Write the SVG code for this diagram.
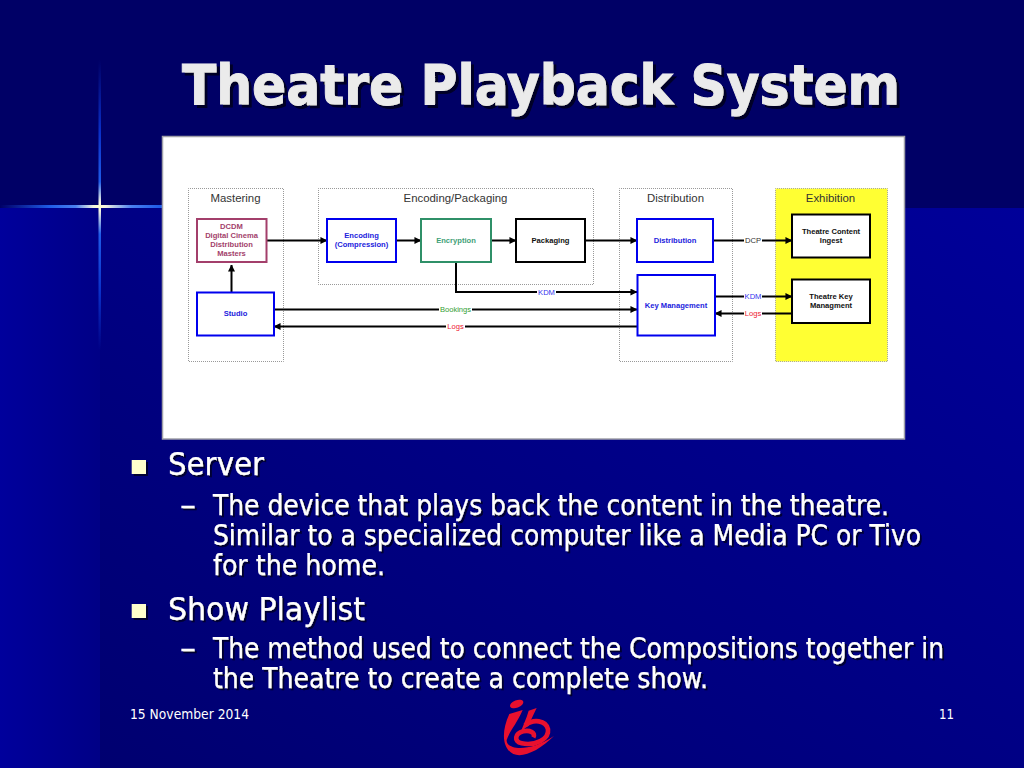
<svg xmlns="http://www.w3.org/2000/svg" width="1024" height="768" viewBox="0 0 1024 768">
<defs>
<linearGradient id="lg" x1="0" x2="1" y1="0" y2="0"><stop offset="0" stop-color="#00009c"/><stop offset="1" stop-color="#000086"/></linearGradient>
<linearGradient id="rg" x1="0" x2="1" y1="1" y2="0"><stop offset="0" stop-color="#000070"/><stop offset="1" stop-color="#000099"/></linearGradient>
<linearGradient id="hs" gradientUnits="userSpaceOnUse" x1="0" x2="199" y1="0" y2="0"><stop offset="0" stop-color="#1a50e0" stop-opacity="0"/><stop offset=".25" stop-color="#1f5ce8"/><stop offset=".38" stop-color="#4a80f0"/><stop offset=".47" stop-color="#f4f4e0"/><stop offset=".5" stop-color="#ffffd0"/><stop offset=".53" stop-color="#f4f4e0"/><stop offset=".66" stop-color="#4a80f0"/><stop offset=".8" stop-color="#1f5ce8"/><stop offset="1" stop-color="#1a50e0"/></linearGradient>
<linearGradient id="vs" gradientUnits="userSpaceOnUse" x1="0" x2="0" y1="60" y2="350"><stop offset="0" stop-color="#0a2ec0" stop-opacity="0"/><stop offset=".25" stop-color="#0a30c8"/><stop offset=".42" stop-color="#1f5ce8"/><stop offset=".49" stop-color="#f4f4e0"/><stop offset=".505" stop-color="#ffffd0"/><stop offset=".52" stop-color="#f4f4e0"/><stop offset=".6" stop-color="#1f5ce8"/><stop offset=".8" stop-color="#0a30c8"/><stop offset="1" stop-color="#0a2ec0" stop-opacity="0"/></linearGradient>
<marker id="ah" viewBox="0 0 8 8" refX="7.5" refY="4" markerWidth="7" markerHeight="7" markerUnits="userSpaceOnUse" orient="auto"><path d="M0 0L8 4L0 8Z" fill="#000"/></marker>
<filter id="ds3" x="-5%" y="-20%" width="110%" height="140%"><feDropShadow dx="3" dy="3" stdDeviation=".7" flood-color="#000028"/></filter>
<filter id="ds2" x="-5%" y="-10%" width="110%" height="120%"><feDropShadow dx="2" dy="2" stdDeviation=".6" flood-color="#000030"/></filter>
</defs>
<style>
.t{font-family:"DejaVu Sans",sans-serif;fill:#fff}
.title{font-size:56px;font-weight:700;fill:#ebebeb;stroke:#ebebeb;stroke-width:1}
.l1{font-size:32px;stroke:#fff;stroke-width:.25}
.l2{font-size:27.5px;stroke:#fff;stroke-width:.25}
.ft{font-size:14px}
.grp{fill:#fff;stroke:#999;stroke-width:1;stroke-dasharray:1 1;stroke-dashoffset:.5}
.gh{font:11.400px "Liberation Sans",Arial,sans-serif;fill:#333;text-anchor:middle}
.b{fill:#fff;stroke-width:2}
.bt{font:bold 7.600px "Liberation Sans",Arial,sans-serif;text-anchor:middle}
.c{fill:none;stroke:#000;stroke-width:2}
.lb{font:7.600px "Liberation Sans",Arial,sans-serif;text-anchor:middle}
</style>
<rect width="1024" height="768" fill="#000066"/>
<rect x="0" y="208" width="100" height="560" fill="url(#lg)"/>
<rect x="100" y="208" width="924" height="560" fill="url(#rg)"/>
<g id="star">
<rect x="0" y="205" width="199" height="3" fill="url(#hs)"/>
<rect x="98.500" y="60" width="2.500" height="290" fill="url(#vs)"/>
</g>
<g id="heading" filter="url(#ds3)">
<text class="t title" x="182" y="104" textLength="718" lengthAdjust="spacingAndGlyphs">Theatre Playback System</text>
</g>
<rect x="162.500" y="136.500" width="742" height="302.500" fill="#fff" stroke="#a0a0a8" stroke-width="1.500"/>
<g id="mastering"><rect class="grp" x="188.500" y="188.500" width="95" height="173"/><text class="gh" x="235.500" y="202">Mastering</text></g>
<g id="encoding-packaging"><rect class="grp" x="318.500" y="188.500" width="275" height="96"/><text class="gh" x="455.500" y="202">Encoding/Packaging</text></g>
<g id="distribution-group"><rect class="grp" x="619.500" y="188.500" width="113" height="173"/><text class="gh" x="675.500" y="202">Distribution</text></g>
<g id="exhibition"><rect x="775.500" y="188.500" width="112" height="173" fill="#ffff33" stroke="#aa9" stroke-dasharray="1 1" stroke-dashoffset=".5"/><text class="gh" x="830.500" y="202">Exhibition</text></g>
<g id="connectors">
<path class="c" marker-end="url(#ah)" d="M266.500 240.500H327"/>
<path class="c" marker-end="url(#ah)" d="M396 240.500H421"/>
<path class="c" marker-end="url(#ah)" d="M491 240.500H516"/>
<path class="c" marker-end="url(#ah)" d="M585 240.500H637"/>
<path class="c" marker-end="url(#ah)" d="M713 240.500H792"/>
<path class="c" marker-end="url(#ah)" d="M231.500 292.500V265"/>
<path class="c" marker-end="url(#ah)" d="M456 262V292H637"/>
<path class="c" marker-end="url(#ah)" d="M274 309.500H637"/>
<path class="c" marker-end="url(#ah)" d="M637.500 326.500H274"/>
<path class="c" marker-end="url(#ah)" d="M715 296.500H792"/>
<path class="c" marker-end="url(#ah)" d="M792 313.500H715"/>
<g fill="#fff">
<rect x="744" y="236" width="18" height="9"/><rect x="744" y="292" width="18" height="9"/><rect x="744" y="309" width="18" height="9"/>
<rect x="537" y="288" width="19" height="8"/><rect x="439" y="305" width="33" height="9"/><rect x="446" y="322" width="19" height="9"/>
</g>
<text class="lb" x="753" y="243.200" fill="#333">DCP</text>
<text class="lb" x="753" y="299" fill="#3333ee">KDM</text>
<text class="lb" x="753" y="316.300" fill="#ee2233">Logs</text>
<text class="lb" x="546.500" y="294.700" fill="#3333ee">KDM</text>
<text class="lb" x="455.500" y="312.200" fill="#33a033">Bookings</text>
<text class="lb" x="455.500" y="329.300" fill="#ee2233">Logs</text>
</g>
<g id="dcdm"><rect class="b" x="197" y="219" width="69.500" height="43" stroke="#a33f6b"/><g class="bt" fill="#a33f6b"><text x="231.500" y="229">DCDM</text><text x="231.500" y="238">Digital Cinema</text><text x="231.500" y="247">Distribution</text><text x="231.500" y="256">Masters</text></g></g>
<g id="studio"><rect class="b" x="197" y="292.500" width="77" height="43" stroke="#0000ee"/><text class="bt" x="235.500" y="316" fill="#2222dd">Studio</text></g>
<g id="encoding"><rect class="b" x="327" y="219" width="69" height="43" stroke="#0000ee"/><g class="bt" fill="#2222dd"><text x="361.500" y="238">Encoding</text><text x="361.500" y="247">(Compression)</text></g></g>
<g id="encryption"><rect class="b" x="421" y="219" width="70" height="43" stroke="#2f9068"/><text class="bt" x="456" y="243" fill="#3f9f78">Encryption</text></g>
<g id="packaging"><rect class="b" x="516" y="219" width="69" height="43" stroke="#000"/><text class="bt" x="550.500" y="243" fill="#111">Packaging</text></g>
<g id="distribution"><rect class="b" x="637" y="219" width="76" height="43" stroke="#0000ee"/><text class="bt" x="675" y="243" fill="#2222dd">Distribution</text></g>
<g id="key-management"><rect class="b" x="637.500" y="275" width="77.500" height="60.500" stroke="#0000ee"/><text class="bt" x="676" y="307.800" fill="#2222dd">Key Management</text></g>
<g id="theatre-content-ingest"><rect class="b" x="792" y="214.500" width="78" height="43" stroke="#000"/><g class="bt" fill="#111"><text x="831" y="233.500">Theatre Content</text><text x="831" y="243">Ingest</text></g></g>
<g id="theatre-key"><rect class="b" x="792" y="279.500" width="78" height="43.500" stroke="#000"/><g class="bt" fill="#111"><text x="831" y="298.500">Theatre Key</text><text x="831" y="308">Managment</text></g></g>
<g id="body" filter="url(#ds2)">
<rect x="131.700" y="460" width="14.300" height="14" fill="#ffffcc"/><rect x="131.700" y="604" width="14.300" height="14" fill="#ffffcc"/>
<text class="t l1" x="168" y="475" textLength="96" lengthAdjust="spacingAndGlyphs">Server</text>
<text class="t l2" x="180" y="515" textLength="16" lengthAdjust="spacingAndGlyphs">–</text>
<text class="t l2" x="213" y="515" textLength="676" lengthAdjust="spacingAndGlyphs">The device that plays back the content in the theatre.</text>
<text class="t l2" x="213" y="545" textLength="708" lengthAdjust="spacingAndGlyphs">Similar to a specialized computer like a Media PC or Tivo</text>
<text class="t l2" x="213" y="575" textLength="172" lengthAdjust="spacingAndGlyphs">for the home.</text>
<text class="t l1" x="168" y="620" textLength="197" lengthAdjust="spacingAndGlyphs">Show Playlist</text>
<text class="t l2" x="180" y="658" textLength="16" lengthAdjust="spacingAndGlyphs">–</text>
<text class="t l2" x="213" y="658" textLength="731" lengthAdjust="spacingAndGlyphs">The method used to connect the Compositions together in</text>
<text class="t l2" x="213" y="688" textLength="495" lengthAdjust="spacingAndGlyphs">the Theatre to create a complete show.</text>
</g>
<g id="footer">
<text class="t ft" x="130" y="719" textLength="119" lengthAdjust="spacingAndGlyphs">15 November 2014</text>
<text class="t ft" x="939" y="719" textLength="15" lengthAdjust="spacingAndGlyphs">11</text>
</g>
<g id="logo" transform="translate(480 690) scale(.3333)" fill="#e8102e">
<ellipse cx="110" cy="42" rx="21" ry="11" transform="rotate(-20 110 42)"/>
<path d="M88 72L128 60C112 98 88 125 80 150C78 178 145 190 222 138C180 180 130 205 100 192C68 176 62 128 88 72Z"/>
<path d="M146 62L170 54C160 75 152 90 146 108C135 112 132 118 120 132C128 108 140 85 146 62Z"/>
<path d="M135 106C160 86 198 90 204 118C208 148 165 168 125 160C100 155 105 130 130 124C150 120 168 128 160 142" fill="none" stroke="#e8102e" stroke-width="14"/>
</g>
</svg>
